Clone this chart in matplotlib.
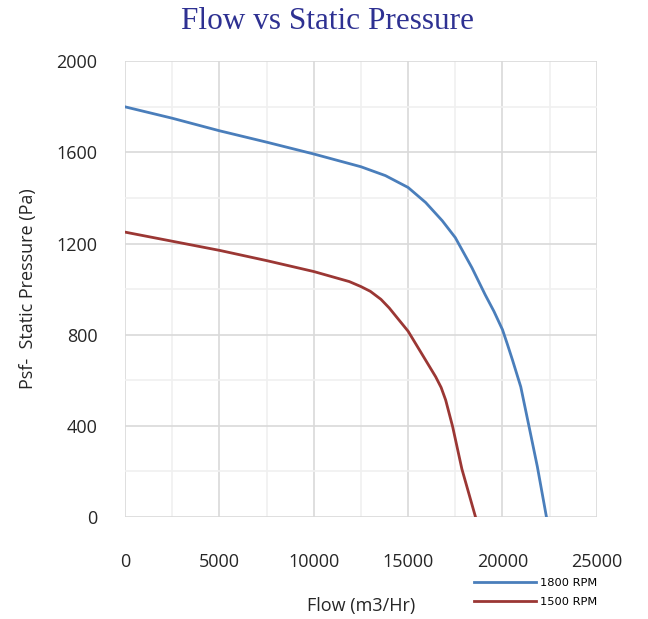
import matplotlib.pyplot as plt
from matplotlib.ticker import MultipleLocator

# datos
flow_1800 = [0, 2500, 5000, 7500, 10000, 12500, 13800, 15000, 15930, 16810, 17500,
             18380, 19085, 19550, 20000, 20260, 20530, 20970, 21410, 21850, 22330]
psf_1800 = [1800, 1750, 1695, 1645, 1593, 1537, 1498, 1446, 1380, 1300, 1226,
            1094, 975, 902, 822, 758, 689, 571, 396, 220, 0]

flow_1500 = [0, 2500, 5000, 7500, 10000, 11880, 12500, 13000, 13560, 14000, 14440,
             15000, 15760, 16460, 16750, 16990, 17360, 17850, 18570]
psf_1500 = [1250, 1210, 1170, 1125, 1077, 1033, 1011, 990, 955, 917, 872,
            815, 711, 615, 568, 513, 396, 210, 0]

x_ticks = [0, 5000, 10000, 15000, 20000, 25000]
y_ticks = [0, 400, 800, 1200, 1600, 2000]

fig = plt.figure(figsize=(6.48, 6.19), dpi=100)
ax = fig.add_axes([0.193, 0.165, 0.728, 0.736])

ax.plot(flow_1800, psf_1800, color='#4A7EBB', lw=2, label='1800 RPM')
ax.plot(flow_1500, psf_1500, color='#9B3734', lw=2, label='1500 RPM')

ax.set_xlim(0, 25000)
ax.set_ylim(0, 2000)
ax.set_xticks(x_ticks)
ax.set_yticks(y_ticks)
ax.xaxis.set_minor_locator(MultipleLocator(2500))
ax.yaxis.set_minor_locator(MultipleLocator(200))
ax.grid(True, which='major', color='#d9d9d9', lw=1.2)
ax.grid(True, which='minor', color='#f0f0f0', lw=1.2)
ax.set_axisbelow(True)
for s in ax.spines.values():
    s.set_visible(False)
ax.tick_params(which='both', length=0)
ax.tick_params(axis='x', pad=26, labelsize=13, labelcolor='#262626')
ax.tick_params(axis='y', pad=20, labelsize=13, labelcolor='#262626')
for lab in ax.get_xticklabels() + ax.get_yticklabels():
    lab.set_family('Open Sans')

ax.set_ylabel('Psf-  Static Pressure (Pa)', fontsize=13, family='Open Sans', color='#262626', labelpad=14)
ax.set_xlabel('Flow (m3/Hr)', fontsize=13, family='Open Sans', color='#262626')
ax.xaxis.set_label_coords(0.5, -0.175)

fig.text(0.506, 0.966, 'Flow vs Static Pressure', ha='center', va='center',
         fontsize=22.5, family='Liberation Serif', color='#2E3192')

fig.legend(loc='lower left', bbox_to_anchor=(0.716, 0.003), frameon=False,
           fontsize=8.2, handlelength=5.4, handletextpad=0.4, labelspacing=0.75)

fig.savefig('out.png', dpi=100)
